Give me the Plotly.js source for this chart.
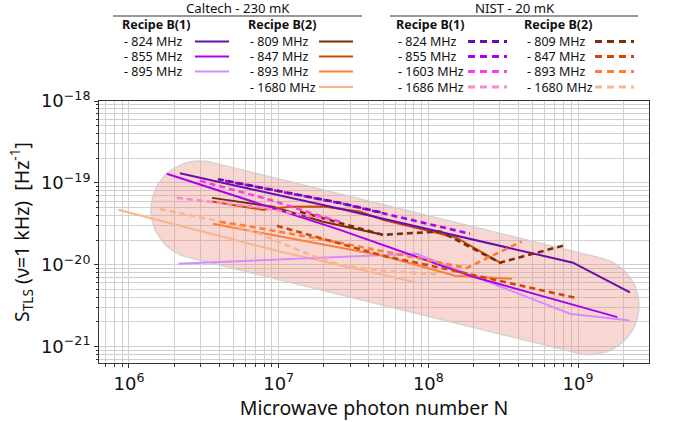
<!DOCTYPE html>
<html><head><meta charset="utf-8">
<script src="https://cdn.plot.ly/plotly-3.0.1.min.js"></script>
<style>body{margin:0;background:#fff}#chart{width:673px;height:422px}</style>
</head><body><div id="chart"></div>
<script>
// ---- Data (photon number N, S_TLS at 1 kHz) ----
// Caltech - 230 mK (solid)
const N_C824 = [2.19e6, 2.57e7, 9.25e8, 2.22e9];
const S_C824 = [1.31e-19, 4.82e-20, 1.06e-20, 4.59e-21];
const N_C855 = [1.79e6, 2.57e7, 1.99e8, 1.83e9];
const S_C855 = [1.29e-19, 2.67e-20, 7.14e-21, 2.29e-21];
const N_C895 = [2.14e6, 8.35e7, 8.83e8, 2.22e9];
const S_C895 = [1.03e-20, 1.36e-20, 2.52e-21, 2.09e-21];
const N_C809 = [3.59e6, 9.16e6, 1.98e7, 4.97e7];
const S_C809 = [6.56e-20, 5.10e-20, 3.35e-20, 2.32e-20];
const N_C847 = [3.59e6, 7.85e6, 1.19e7, 1.98e7, 3.49e7, 4.97e7, 1.55e8, 3.10e8];
const S_C847 = [5.91e-20, 4.69e-20, 5.10e-20, 5.14e-20, 4.47e-20, 3.54e-20, 2.13e-20, 1.03e-20];
const N_C893 = [3.64e6, 2.57e7, 4.97e7, 1.51e8, 3.62e8];
const S_C893 = [3.16e-20, 1.61e-20, 1.29e-20, 7.34e-21, 6.75e-21];
const N_C1680 = [8.48e5, 1.02e7, 8.35e7];
const S_C1680 = [4.69e-20, 1.45e-20, 6.08e-21];
// NIST - 20 mK (dashed)
const N_N824 = [3.93e6, 2.57e7, 4.97e7];
const S_N824 = [1.11e-19, 5.70e-20, 4.31e-20];
const N_N855 = [4.38e6, 2.57e7, 1.90e8];
const S_N855 = [1.06e-19, 5.65e-20, 2.39e-20];
const N_N1603 = [2.98e6, 8.75e6, 1.79e7, 2.69e7];
const S_N1603 = [1.06e-19, 6.21e-20, 4.07e-20, 3.28e-20];
const N_N1686 = [2.09e6, 3.48e6, 7.85e6, 2.20e7];
const S_N1686 = [6.56e-20, 5.87e-20, 4.96e-20, 3.54e-20];
const N_N809 = [1.39e7, 2.57e7, 4.97e7, 1.20e8, 3.01e8, 7.93e8];
const S_N809 = [4.43e-20, 3.23e-20, 2.32e-20, 2.55e-20, 1.06e-20, 1.71e-20];
const N_N847 = [9.74e6, 2.57e7, 4.97e7, 1.39e8, 3.01e8, 9.53e8];
const S_N847 = [2.99e-20, 1.80e-20, 1.29e-20, 8.69e-21, 6.38e-21, 3.96e-21];
const N_N893 = [4.06e6, 6.11e6, 2.57e7, 8.35e7, 1.80e8, 4.20e8];
const S_N893 = [3.35e-20, 2.99e-20, 1.86e-20, 1.21e-20, 9.12e-21, 1.92e-20];
const N_N1680 = [1.61e6, 3.64e6, 7.16e6, 1.62e7, 2.69e7, 4.97e7, 1.20e8];
const S_N1680 = [4.78e-20, 3.54e-20, 2.46e-20, 1.32e-20, 9.72e-21, 8.45e-21, 7.55e-21];

const xTickVals = [1e6, 1e7, 1e8, 1e9];
const xTickText = ['10<sup>6</sup>', '10<sup>7</sup>', '10<sup>8</sup>', '10<sup>9</sup>'];
const yTickVals = [1e-21, 1e-20, 1e-19, 1e-18];
const yTickText = ['10<sup>−21</sup>', '10<sup>−20</sup>', '10<sup>−19</sup>', '10<sup>−18</sup>'];

// ---- Styles ----
const C = {
  c824: '#6a0dad', c855: '#ad00f0', c895: '#d68cff',
  c1603: '#ff3de6', c1686: '#ff88cc',
  c809: '#7b2d0d', c847: '#cc4a06', c893: '#fd7e3a', c1680: '#fcb48e'
};
const DASH = '6px,4px';

function minorVals(lo, hi) {
  const out = [];
  for (let e = lo; e <= hi; e++) for (let m = 2; m <= 9; m++) out.push(m * Math.pow(10, e));
  return out;
}

// highlight capsule (log-space geometry, round in screen space)
function capsule(lx1, ly1, lx2, ly2, rpx, kx, ky) {
  const X1 = lx1 * kx, Y1 = -ly1 * ky, X2 = lx2 * kx, Y2 = -ly2 * ky;
  const ang = Math.atan2(Y2 - Y1, X2 - X1);
  const xs = [], ys = [];
  for (let i = 0; i <= 40; i++) {
    const t = ang - Math.PI / 2 + Math.PI * i / 40;
    xs.push(X2 + rpx * Math.cos(t)); ys.push(Y2 + rpx * Math.sin(t));
  }
  for (let i = 0; i <= 40; i++) {
    const t = ang + Math.PI / 2 + Math.PI * i / 40;
    xs.push(X1 + rpx * Math.cos(t)); ys.push(Y1 + rpx * Math.sin(t));
  }
  xs.push(xs[0]); ys.push(ys[0]);
  return {x: xs.map(v => Math.pow(10, v / kx)), y: ys.map(v => Math.pow(10, -v / ky))};
}
const cap = capsule(6.474, -19.33, 9.08, -20.50, 49, 149.7, 82);

function tr(x, y, color, dashed) {
  return {x, y, type: 'scatter', mode: 'lines', hoverinfo: 'skip', showlegend: false,
    line: {color, width: dashed ? 2.6 : 2, dash: dashed ? DASH : 'solid'}};
}

const traces = [
  {x: cap.x, y: cap.y, type: 'scatter', mode: 'lines', fill: 'toself',
   fillcolor: 'rgba(235,141,126,0.35)', line: {color: 'rgba(205,205,205,0.8)', width: 1.5},
   hoverinfo: 'skip', showlegend: false},
  tr(N_C1680, S_C1680, C.c1680, false),
  tr(N_C895, S_C895, C.c895, false),
  tr(N_C893, S_C893, C.c893, false),
  tr(N_C809, S_C809, C.c809, false),
  tr(N_C847, S_C847, C.c847, false),
  tr(N_C855, S_C855, C.c855, false),
  tr(N_C824, S_C824, C.c824, false),
  tr(N_N1680, S_N1680, C.c1680, true),
  tr(N_N893, S_N893, C.c893, true),
  tr(N_N847, S_N847, C.c847, true),
  tr(N_N809, S_N809, C.c809, true),
  tr(N_N1686, S_N1686, C.c1686, true),
  tr(N_N1603, S_N1603, C.c1603, true),
  tr(N_N855, S_N855, C.c855, true),
  tr(N_N824, S_N824, C.c824, true)
];

// ---- Custom legend (paper coords from pixel layout) ----
const L = 99, R = 649, T = 101, B = 363;
const px = v => (v - L) / (R - L);
const py = v => (B - v) / (B - T);
const FONT = 'Noto Sans, Open Sans, DejaVu Sans, sans-serif';
const ann = [], shp = [];
function text(t, x, y, opts) {
  ann.push(Object.assign({text: t, x: px(x), y: py(y), xref: 'paper', yref: 'paper',
    showarrow: false, xanchor: 'left', yanchor: 'middle', borderpad: 0, borderwidth: 0,
    font: {family: FONT, size: 12.5, color: '#111'}}, opts || {}));
}
function hline(x0, x1, y, color, dash, width) {
  shp.push({type: 'line', xref: 'paper', yref: 'paper', x0: px(x0), x1: px(x1), y0: py(y), y1: py(y),
    line: {color, width, dash}});
}
text('Caltech - 230 mK', 238, 7.5, {xanchor: 'center', font: {family: FONT, size: 13.2, color: '#111'}});
text('NIST - 20 mK', 515, 7.5, {xanchor: 'center', font: {family: FONT, size: 13.2, color: '#111'}});
hline(113, 362, 16, '#777', 'solid', 1.5);
hline(390, 638, 16, '#777', 'solid', 1.5);

const rows = [41.5, 56.5, 71.5, 87];
const groups = [
  {hx: 122, tx: 124, l0: 195, l1: 229, dash: 'solid', head: 'Recipe B(1)',
   items: [['- 824 MHz', C.c824], ['- 855 MHz', C.c855], ['- 895 MHz', C.c895]]},
  {hx: 248, tx: 250, l0: 319, l1: 353, dash: 'solid', head: 'Recipe B(2)',
   items: [['- 809 MHz', C.c809], ['- 847 MHz', C.c847], ['- 893 MHz', C.c893], ['- 1680 MHz', C.c1680]]},
  {hx: 396, tx: 398, l0: 468, l1: 507, dash: '7px,5px', head: 'Recipe B(1)',
   items: [['- 824 MHz', C.c824], ['- 855 MHz', C.c855], ['- 1603 MHz', C.c1603], ['- 1686 MHz', C.c1686]]},
  {hx: 524, tx: 527, l0: 595, l1: 634, dash: '7px,5px', head: 'Recipe B(2)',
   items: [['- 809 MHz', C.c809], ['- 847 MHz', C.c847], ['- 893 MHz', C.c893], ['- 1680 MHz', C.c1680]]}
];
groups.forEach(g => {
  text('<b>' + g.head + '</b>', g.hx, 25);
  g.items.forEach((it, i) => {
    text(it[0], g.tx, rows[i]);
    hline(g.l0, g.l1, rows[i], it[1], g.dash, g.dash === 'solid' ? 2.2 : 2.8);
  });
});

const grid = '#d0d0d0';
const layout = {
  width: 673, height: 422,
  margin: {l: L, r: 673 - R, t: T, b: 422 - B, pad: 0},
  paper_bgcolor: '#fff', plot_bgcolor: '#fff',
  showlegend: false,
  xaxis: {
    type: 'log', range: [5.80, 9.474],
    tickmode: 'array', tickvals: xTickVals, ticktext: xTickText,
    tickfont: {family: 'DejaVu Sans', size: 18, color: '#111'},
    ticks: 'outside', ticklen: 4, tickcolor: '#333',
    showgrid: true, gridcolor: grid, gridwidth: 1,
    minor: {tickvals: minorVals(5, 9), showgrid: true, gridcolor: grid, gridwidth: 1,
            ticks: 'outside', ticklen: 2.5, tickcolor: '#333'},
    showline: true, mirror: true, linecolor: '#333', linewidth: 1,
    zeroline: false, automargin: false,
    title: {text: 'Microwave photon number N', standoff: 3,
            font: {family: FONT, size: 19.5, color: '#111'}}
  },
  yaxis: {
    type: 'log', range: [-21.2, -18],
    tickmode: 'array', tickvals: yTickVals, ticktext: yTickText,
    tickfont: {family: 'DejaVu Sans', size: 18, color: '#111'},
    ticks: 'outside', ticklen: 4, tickcolor: '#333',
    showgrid: true, gridcolor: grid, gridwidth: 1,
    minor: {tickvals: minorVals(-22, -19), showgrid: true, gridcolor: grid, gridwidth: 1,
            ticks: 'outside', ticklen: 2.5, tickcolor: '#333'},
    showline: true, mirror: true, linecolor: '#333', linewidth: 1,
    zeroline: false, automargin: false,
    title: {text: 'S<sub>TLS</sub> (ν=1 kHz)  [Hz<sup>-1</sup>]', standoff: 6,
            font: {family: FONT, size: 19.5, color: '#111'}}
  },
  annotations: ann,
  shapes: shp
};
Plotly.newPlot('chart', traces, layout, {staticPlot: true, displayModeBar: false});
</script></body></html>
